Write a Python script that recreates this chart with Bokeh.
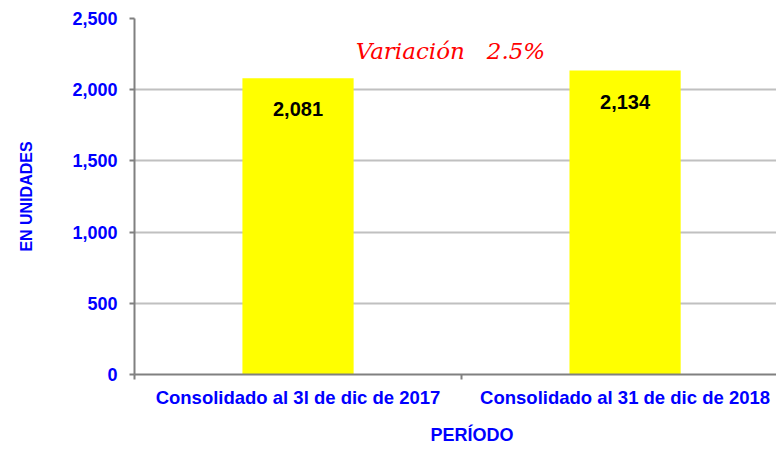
from bokeh.plotting import figure
from bokeh.models import Range1d, FixedTicker, NumeralTickFormatter, ColumnDataSource, LabelSet, Label, Title
from bokeh.core.properties import value
from bokeh.embed import file_html
from bokeh.resources import INLINE

categories = ["Consolidado al 3l de dic de 2017", "Consolidado al 31 de dic de 2018"]
values = [2081, 2134]
value_labels = ["2,081", "2,134"]
y_ticks = [0, 500, 1000, 1500, 2000, 2500]
variation_text = "Variación\u00a0\u00a0 2.5%"

positions = [i + 0.5 for i in range(len(categories))]

p = figure(width=776, height=457, output_backend="svg", toolbar_location=None,
           x_range=Range1d(0, 1.963), y_range=Range1d(0, 2500),
           min_border_left=134, min_border_right=0, min_border_top=18, min_border_bottom=82)
p.outline_line_color = None
p.background_fill_color = "white"
p.border_fill_color = "white"

src = ColumnDataSource(dict(x=positions, top=values, lab=value_labels))
p.vbar(x="x", top="top", width=0.34, source=src, fill_color="#ffff00", line_color=None)

labels = LabelSet(x="x", y="top", text="lab", source=src, y_offset=-31,
                  text_align="center", text_baseline="middle",
                  text_font=value("Liberation Sans"), text_font_style="bold",
                  text_font_size="20px", text_color="black")
p.add_layout(labels)

# axes
p.xaxis.ticker = FixedTicker(ticks=positions, minor_ticks=[0, 1, 2])
p.xaxis.major_label_overrides = {pos: c for pos, c in zip(positions, categories)}
p.xaxis.major_tick_out = 0
p.xaxis.major_tick_in = 0
p.xaxis.minor_tick_out = 5
p.xaxis.minor_tick_in = 0
p.xaxis.minor_tick_line_color = "#808080"
p.xaxis.minor_tick_line_width = 2
p.xaxis.axis_line_color = "#808080"
p.xaxis.axis_line_width = 2
p.xaxis.major_label_text_font = "Liberation Sans"
p.xaxis.major_label_text_font_style = "bold"
p.xaxis.major_label_text_font_size = "18.5px"
p.xaxis.major_label_text_color = "#0000ff"
p.xaxis.major_label_standoff = 7

p.yaxis.ticker = FixedTicker(ticks=y_ticks)
p.yaxis.formatter = NumeralTickFormatter(format="0,0")
p.yaxis.major_tick_out = 5
p.yaxis.major_tick_in = 0
p.yaxis.minor_tick_line_color = None
p.yaxis.major_tick_line_color = "#808080"
p.yaxis.major_tick_line_width = 2
p.yaxis.axis_line_color = "#808080"
p.yaxis.axis_line_width = 2
p.yaxis.major_label_text_font = "Liberation Sans"
p.yaxis.major_label_text_font_style = "bold"
p.yaxis.major_label_text_font_size = "18px"
p.yaxis.major_label_text_color = "#0000ff"
p.yaxis.major_label_standoff = 12
p.yaxis.axis_label = "EN UNIDADES"
p.yaxis.axis_label_text_font = "Liberation Sans"
p.yaxis.axis_label_text_font_style = "bold"
p.yaxis.axis_label_text_font_size = "16px"
p.yaxis.axis_label_text_color = "#0000ff"
p.yaxis.axis_label_standoff = 34

p.xgrid.grid_line_color = None
p.ygrid.ticker = FixedTicker(ticks=y_ticks)
p.ygrid.grid_line_color = "#c0c0c0"
p.ygrid.grid_line_width = 2

p.add_layout(Title(text="PERÍODO", align="left", offset=296, standoff=25,
                   text_font="Liberation Sans", text_font_style="bold", text_font_size="18px",
                   text_color="#0000ff"), "below")

p.add_layout(Label(x=0.966, y=2274, text=variation_text, text_align="center", text_baseline="middle",
                   text_font="DejaVu Serif", text_font_style="italic", text_font_size="23px",
                   text_color="#ff0000"))

open("out.html", "w").write(file_html(p, INLINE))
